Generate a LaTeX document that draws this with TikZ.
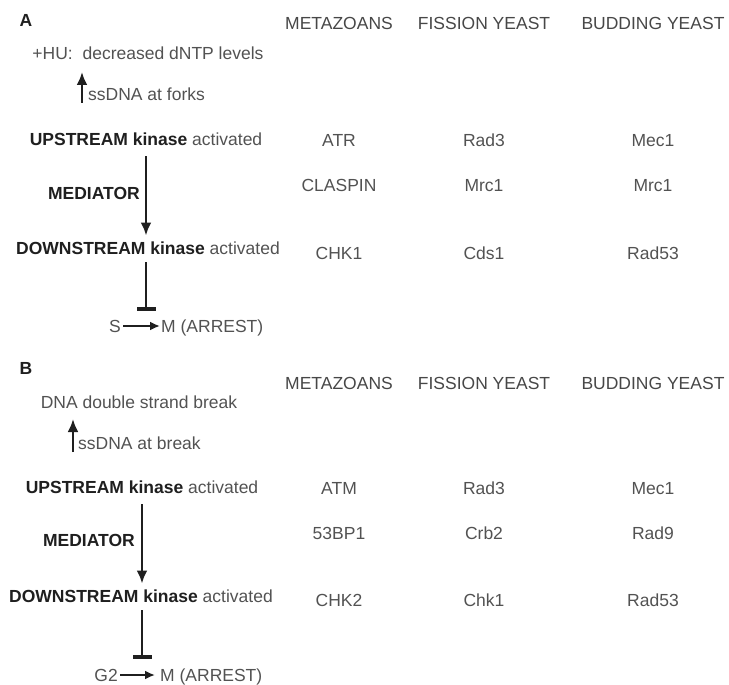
\documentclass[tikz,border=0pt]{standalone}
\usepackage{fontspec}
\setmainfont{Liberation Sans}
\usetikzlibrary{positioning,arrows.meta}
\newcommand{\strongtxt}[1]{\textcolor{black!88}{\textbf{#1}}}

\begin{document}
\begin{tikzpicture}[x=1pt,y=-1pt]
\tikzstyle{txt}=[font=\fontsize{17.5}{21}\selectfont, text=black!68, inner sep=0pt, text height=12.5pt, text depth=0pt]
\tikzstyle{hdr}=[txt, text=black!72]
\tikzstyle{connect}=[-{Latex[length=13pt,width=11pt]}, line width=2.6pt, draw=black!88]
\tikzstyle{phase}=[-{Latex[length=10pt,width=9pt]}, line width=2.3pt, draw=black!88]
\tikzstyle{inhibit}=[-{Bar[width=19pt,line width=3.6pt]}, line width=2.6pt, draw=black!88]
\useasboundingbox (0,0) rectangle (729,685);
% panel A
  \node[txt] (labA) at (26,20) {\strongtxt{A}};
  \node[hdr] (metaA) at (339,23) {METAZOANS};
  \node[hdr] (fissA) at (484,23) {FISSION YEAST};
  \node[hdr] (budA) at (653,23) {BUDDING YEAST};
  \node[txt] (huA) at (148,53) {+HU:~ decreased dNTP levels};
\coordinate (tailA) at (82,103);
\coordinate (tipA) at (82,72);
  \node[txt, anchor=west] (ssA) at (88,94) {ssDNA at forks};
  \node[txt] (upA) at (146,139) {\strongtxt{UPSTREAM kinase} activated};
  \node[txt, anchor=east] (medA) at (140,193) {\strongtxt{MEDIATOR}};
  \node[txt] (downA) at (148,248) {\strongtxt{DOWNSTREAM kinase} activated};
\coordinate (hitA) at (146,311);
  \node[txt, anchor=east] (sA) at (121,326) {S};
  \node[txt, anchor=west] (mA) at (161,326) {M (ARREST)};
  \node[txt] (atr) at (339,140) {ATR};
  \node[txt] (rad3A) at (484,140) {Rad3};
  \node[txt] (mec1A) at (653,140) {Mec1};
  \node[txt] (claspin) at (339,185) {CLASPIN};
  \node[txt] (mrc1F) at (484,185) {Mrc1};
  \node[txt] (mrc1B) at (653,185) {Mrc1};
  \node[txt] (chk1A) at (339,253) {CHK1};
  \node[txt] (cds1) at (484,253) {Cds1};
  \node[txt] (rad53A) at (653,253) {Rad53};
  \path (tailA) edge[connect] (tipA)
           ([yshift=-11pt]upA.south -| hitA) edge[connect] ([yshift=6pt]downA.north -| hitA)
           ([yshift=-8pt]downA.south -| hitA) edge[inhibit] (hitA)
           (sA) edge[phase, shorten <=2pt, shorten >=1pt] (mA)
           ;
% panel B
  \node[txt] (labB) at (26,368) {\strongtxt{B}};
  \node[hdr] (metaB) at (339,383) {METAZOANS};
  \node[hdr] (fissB) at (484,383) {FISSION YEAST};
  \node[hdr] (budB) at (653,383) {BUDDING YEAST};
  \node[txt] (dsb) at (139,402) {DNA double strand break};
\coordinate (tailB) at (73,452);
\coordinate (tipB) at (73,419);
  \node[txt, anchor=west] (ssB) at (78,443) {ssDNA at break};
  \node[txt] (upB) at (142,487) {\strongtxt{UPSTREAM kinase} activated};
  \node[txt, anchor=east] (medB) at (135,540) {\strongtxt{MEDIATOR}};
  \node[txt] (downB) at (141,596) {\strongtxt{DOWNSTREAM kinase} activated};
\coordinate (hitB) at (142,659);
  \node[txt, anchor=east] (g2) at (118,675) {G2};
  \node[txt, anchor=west] (mB) at (160,675) {M (ARREST)};
  \node[txt] (atm) at (339,488) {ATM};
  \node[txt] (bp1) at (339,533) {53BP1};
  \node[txt] (chk2) at (339,600) {CHK2};
  \node[txt] (rad3B) at (484,488) {Rad3};
  \node[txt] (crb2) at (484,533) {Crb2};
  \node[txt] (chk1B) at (484,600) {Chk1};
  \node[txt] (mec1B) at (653,488) {Mec1};
  \node[txt] (rad9) at (653,533) {Rad9};
  \node[txt] (rad53B) at (653,600) {Rad53};
  \path (tailB) edge[connect] (tipB)
           ([yshift=-11pt]upB.south -| hitB) edge[connect] ([yshift=6pt]downB.north -| hitB)
           ([yshift=-8pt]downB.south -| hitB) edge[inhibit] (hitB)
           (g2) edge[phase, shorten <=2pt, shorten >=5pt] (mB)
           ;
\end{tikzpicture}
\end{document}
